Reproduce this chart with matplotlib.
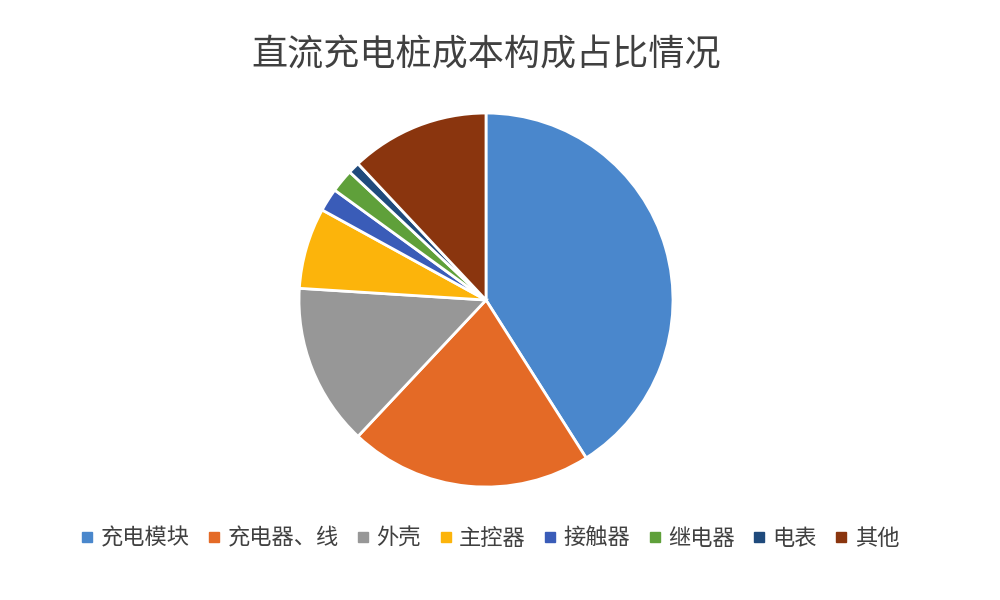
import matplotlib
matplotlib.use("Agg")
import matplotlib.pyplot as plt
from matplotlib.lines import Line2D

plt.rcParams['font.family'] = ['Noto Sans CJK SC', 'DejaVu Sans']

categories = ['充电模块', '充电器、线', '外壳', '主控器', '接触器', '继电器', '电表', '其他']
values = [41, 21, 14, 7, 2, 2, 1, 12]
colors = ['#4A87CC', '#E46A26', '#979797', '#FCB40B', '#3A5CB8', '#5FA03A', '#1F4A7C', '#8A350E']
title = '直流充电桩成本构成占比情况'

fig = plt.figure(figsize=(10, 6), dpi=100)
ax = fig.add_axes([0.299, 0.1883, 0.374, 0.6233])
ax.pie(values, colors=colors, startangle=90, counterclock=False,
       wedgeprops=dict(edgecolor='white', linewidth=2))
ax.set_xlim(-1.0, 1.0)
ax.set_ylim(-1.0, 1.0)
ax.set_aspect('equal')

fig.text(0.486, 0.908, title, ha='center', va='center', fontsize=26, color='#404040')

handles = [Line2D([0], [0], marker='s', linestyle='none', markersize=7,
                  markerfacecolor=c, markeredgecolor=c) for c in colors]
fig.legend(handles, categories, loc='center', bbox_to_anchor=(0.49, 0.103), ncol=8,
           frameon=False, fontsize=16, handlelength=0.6, handletextpad=0.3,
           columnspacing=0.8, labelcolor='#404040')

fig.savefig('out.png', dpi=100, facecolor='white')
